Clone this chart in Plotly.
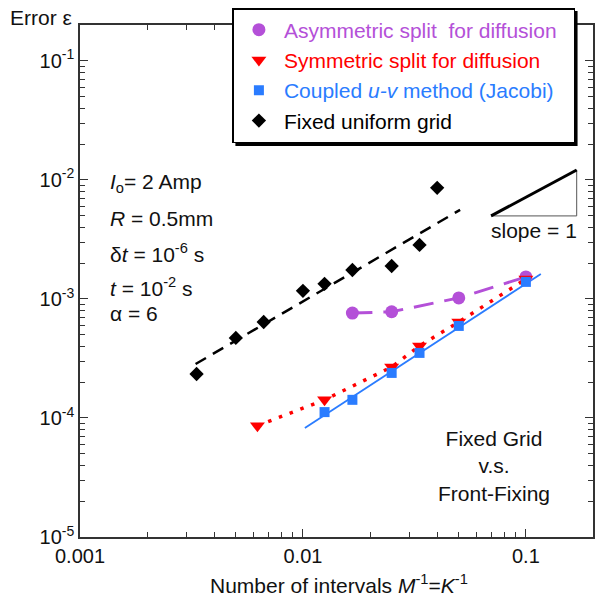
import math
import plotly.graph_objects as go

# ---- data ----
asym_x = [1/60, 1/40, 1/20, 1/10]
asym_y = [7.6e-4, 7.8e-4, 1.02e-3, 1.53e-3]

sym_x = [1/160, 1/80, 1/40, 1/30, 1/20, 1/10]
sym_y = [8.6e-5, 1.42e-4, 2.68e-4, 4.03e-4, 6.4e-4, 1.47e-3]

coup_x = [1/80, 1/60, 1/40, 1/30, 1/20, 1/10]
coup_y = [1.12e-4, 1.42e-4, 2.39e-4, 3.52e-4, 5.93e-4, 1.39e-3]
coup_fit_x = [0.0102, 0.1167]
coup_fit_y = [8.24e-5, 1.62e-3]

fixed_x = [1/300, 1/200, 1/150, 1/100, 1/80, 1/60, 1/40, 1/30, 1/25]
fixed_y = [2.34e-4, 4.7e-4, 6.4e-4, 1.17e-3, 1.34e-3, 1.75e-3, 1.89e-3, 2.84e-3, 8.57e-3]
fixed_fit_x = [0.0033, 0.0507]
fixed_fit_y = [2.84e-4, 5.6e-3]

slope_x = [0.0698, 0.169]
slope_y = [4.98e-3, 0.0121]

x_ticks = [0.001, 0.01, 0.1]
x_ticklabels = ["0.001", "0.01", "0.1"]
y_ticks = [1e-5, 1e-4, 1e-3, 1e-2, 1e-1]
y_ticklabels = ["10<sup>-5</sup>", "10<sup>-4</sup>", "10<sup>-3</sup>", "10<sup>-2</sup>", "10<sup>-1</sup>"]

legend_names = [
    "Asymmetric split  for diffusion",
    "Symmetric split for diffusion",
    "Coupled <i>u-v</i> method (Jacobi)",
    "Fixed uniform grid",
]

PURPLE = "#B450D8"
RED = "#FF0000"
BLUE = "#2A7CFF"
BLACK = "#000000"
FONT = "Liberation Sans, Arial, sans-serif"

fig = go.Figure()

# lines (no legend)
fig.add_trace(go.Scatter(x=fixed_fit_x, y=fixed_fit_y, mode="lines", showlegend=False,
                         line=dict(color=BLACK, width=2.5, dash="12px,8px")))
fig.add_trace(go.Scatter(x=asym_x, y=asym_y, mode="lines", showlegend=False,
                         line=dict(color=PURPLE, width=3, dash="20px,11px")))
fig.add_trace(go.Scatter(x=sym_x, y=sym_y, mode="lines", showlegend=False,
                         line=dict(color=RED, width=3.5, dash="3.5px,8px")))
fig.add_trace(go.Scatter(x=coup_fit_x, y=coup_fit_y, mode="lines", showlegend=False,
                         line=dict(color=BLUE, width=1.8)))

# markers (legend)
pad = "\u00a0\u00a0"
fig.add_trace(go.Scatter(x=asym_x, y=asym_y, mode="markers",
                         name="<span style='color:%s'>%s%s</span>" % (PURPLE, legend_names[0], pad),
                         marker=dict(symbol="circle", size=13, color=PURPLE)))
fig.add_trace(go.Scatter(x=sym_x, y=sym_y, mode="markers",
                         name="<span style='color:%s'>%s</span>" % (RED, legend_names[1]),
                         marker=dict(symbol="triangle-down", size=13, color=RED)))
fig.add_trace(go.Scatter(x=coup_x, y=coup_y, mode="markers",
                         name="<span style='color:%s'>%s</span>" % (BLUE, legend_names[2]),
                         marker=dict(symbol="square", size=10, color=BLUE)))
fig.add_trace(go.Scatter(x=fixed_x, y=fixed_y, mode="markers",
                         name="<span style='color:%s'>%s</span>" % (BLACK, legend_names[3]),
                         marker=dict(symbol="diamond", size=11, color=BLACK)))

# slope triangle
fig.add_trace(go.Scatter(x=[slope_x[0], slope_x[1], slope_x[1]], y=[slope_y[0], slope_y[0], slope_y[1]],
                         mode="lines", showlegend=False, line=dict(color="#555555", width=1)))
fig.add_trace(go.Scatter(x=slope_x, y=slope_y, mode="lines", showlegend=False,
                         line=dict(color=BLACK, width=3)))

x_minor = [m * 10.0 ** e for e in (-3, -2, -1) for m in range(2, 10) if m * 10.0 ** e <= 0.2]
y_minor = [m * 10.0 ** e for e in (-5, -4, -3, -2, -1) for m in range(2, 10) if m * 10.0 ** e <= 0.2]

axis_common = dict(type="log", showline=True, linecolor="#333333", linewidth=1.5, mirror="ticks",
                   ticks="inside", ticklen=8, tickwidth=1.3, tickcolor="#333333", showgrid=False,
                   zeroline=False, tickfont=dict(family=FONT, size=20, color="#111111"))

fig.update_xaxes(range=[-3, math.log10(0.2)], tickmode="array", tickvals=x_ticks, ticktext=x_ticklabels,
                 minor=dict(ticks="inside", ticklen=5, tickwidth=1, tickcolor="#333333",
                            tickmode="array", tickvals=x_minor, showgrid=False),
                 **axis_common)
fig.update_yaxes(range=[-5, math.log10(0.2)], tickmode="array", tickvals=y_ticks, ticktext=y_ticklabels,
                 minor=dict(ticks="inside", ticklen=5, tickwidth=1, tickcolor="#333333",
                            tickmode="array", tickvals=y_minor, showgrid=False),
                 **axis_common)

ann_font = dict(family=FONT, size=21, color="#111111")
params = [
    ("<i>I</i><sub>o</sub>= 2 Amp", 0.6914),
    ("<i>R</i> = 0.5mm", 0.623),
    ("δ<i>t</i> = 10<sup>-6</sup> s", 0.5547),
    ("<i>t</i> = 10<sup>-2</sup> s", 0.4883),
    ("α = 6", 0.4375),
]
annotations = []
for txt, yy in params:
    annotations.append(dict(text=txt, x=0.054, y=yy, xref="paper", yref="paper", xanchor="left",
                            yanchor="middle", showarrow=False, font=ann_font))
annotations += [
    dict(text="Fixed Grid<br>v.s.<br>Front-Fixing", x=0.807, y=0.1387, xref="paper", yref="paper",
         xanchor="center", yanchor="middle", showarrow=False, font=ann_font),
    dict(text="slope = 1", x=0.8846, y=0.5996, xref="paper", yref="paper", xanchor="center",
         yanchor="middle", showarrow=False, font=ann_font),
    dict(text="Error ε", x=-0.1397, y=1.0137, xref="paper", yref="paper", xanchor="left",
         yanchor="middle", showarrow=False, font=ann_font),
    dict(text="Number of intervals <i>M</i><sup>-1</sup>=<i>K</i><sup>-1</sup>", x=0.5044, y=-0.0918,
         xref="paper", yref="paper", xanchor="center", yanchor="middle", showarrow=False, font=ann_font),
]

W, H = 515.0, 512.0
def px(xp):
    return (xp - 80) / W
def py(yp):
    return (537 - yp) / H

fig.update_layout(
    width=595, height=601,
    margin=dict(l=80, r=0, t=25, b=64),
    paper_bgcolor="white", plot_bgcolor="white",
    showlegend=True,
    legend=dict(x=px(233), y=py(8), xanchor="left", yanchor="top", bgcolor="white", itemwidth=40,
                bordercolor=BLACK, borderwidth=1.5, font=dict(family=FONT, size=21)),
    annotations=annotations,
    shapes=[dict(type="rect", xref="paper", yref="paper", x0=px(236), x1=px(579.5), y0=py(146), y1=py(11),
                 fillcolor=BLACK, line=dict(width=0), layer="above")],
)

fig.write_html("out.html")
